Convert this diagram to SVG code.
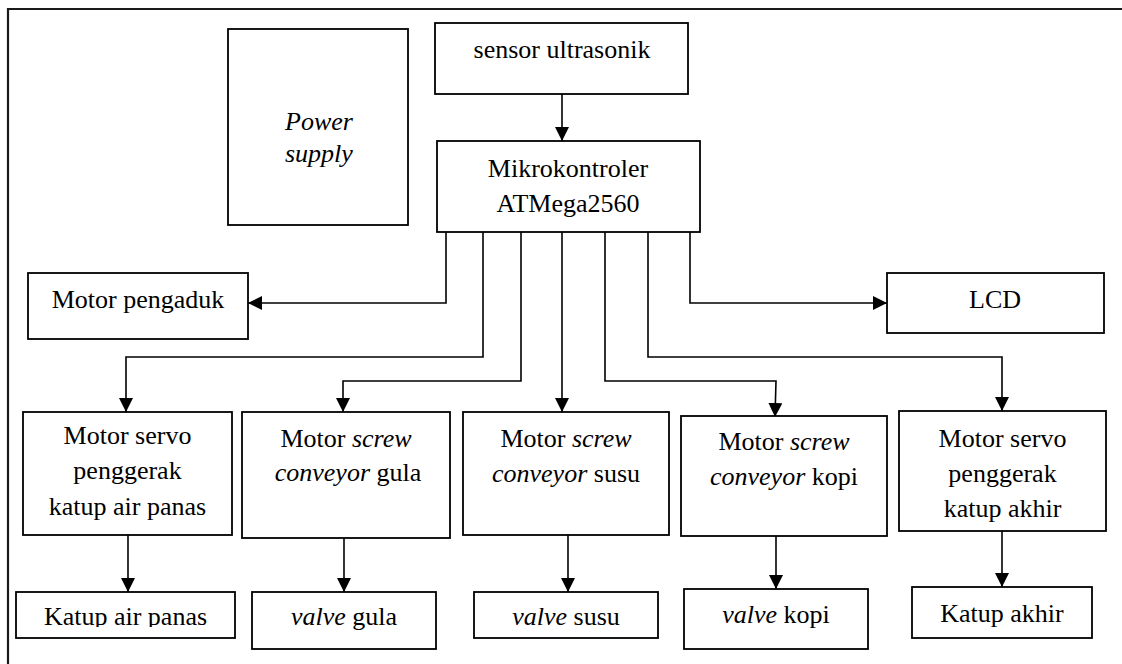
<svg xmlns="http://www.w3.org/2000/svg" width="1122" height="664" viewBox="0 0 1122 664">
  <defs>
    <marker id="arrow" viewBox="0 0 14 14" refX="14" refY="7" markerWidth="14" markerHeight="14" markerUnits="userSpaceOnUse" orient="auto">
      <path d="M0,0 L14,7 L0,14 Z" fill="#000"/>
    </marker>
    <clipPath id="clipAirPanas">
      <rect x="16" y="592" width="219" height="35"/>
    </clipPath>
  </defs>
  <style>
    .box { fill: #fff; stroke: #000; stroke-width: 1.8; }
    .it { font-style: italic; }
    .wire { fill: none; stroke: #000; stroke-width: 1.6; }
    .frame { fill: none; stroke: #1a1a1a; stroke-width: 2.2; }
  </style>

  <rect width="1122" height="664" fill="#fff"/>

  <!-- outer frame -->
  <path class="frame" d="M8,664 L8,9 L1122,9"/>

  <!-- connectors -->
  <g id="connectors">
    <path class="wire" d="M562,94 L562,141" marker-end="url(#arrow)"/>
    <path class="wire" d="M446,232 L446,303 L248,303" marker-end="url(#arrow)"/>
    <path class="wire" d="M690,232 L690,303 L887,303" marker-end="url(#arrow)"/>
    <path class="wire" d="M483,232 L483,357 L126,357 L126,412" marker-end="url(#arrow)"/>
    <path class="wire" d="M521,232 L521,381 L343,381 L343,412" marker-end="url(#arrow)"/>
    <path class="wire" d="M562,232 L562,412" marker-end="url(#arrow)"/>
    <path class="wire" d="M605,232 L605,381 L776,381 L775,417" marker-end="url(#arrow)"/>
    <path class="wire" d="M648,232 L648,357 L1002,357 L1002,411" marker-end="url(#arrow)"/>
    <path class="wire" d="M128,535 L128,592" marker-end="url(#arrow)"/>
    <path class="wire" d="M344,535 L344,592" marker-end="url(#arrow)"/>
    <path class="wire" d="M568,535 L568,592" marker-end="url(#arrow)"/>
    <path class="wire" d="M776,536 L776,589" marker-end="url(#arrow)"/>
    <path class="wire" d="M1002,531 L1002,587" marker-end="url(#arrow)"/>
  </g>

  <g font-size="26" fill="#000" text-anchor="middle">
    <g id="power-supply">
      <rect class="box" x="228" y="29" width="180" height="196"/>
      <text font-family="Liberation Serif" class="it" x="285" y="130" text-anchor="start">Power</text>
      <text font-family="Liberation Serif" class="it" x="285" y="162" text-anchor="start">supply</text>
    </g>

    <g id="sensor-ultrasonik">
      <rect class="box" x="435" y="23" width="253" height="71"/>
      <text font-family="Liberation Serif" x="562" y="58">sensor ultrasonik</text>
    </g>

    <g id="mikrokontroler">
      <rect class="box" x="437" y="141" width="263" height="91"/>
      <text font-family="Liberation Serif" x="568" y="177">Mikrokontroler</text>
      <text font-family="Liberation Serif" x="568" y="212">ATMega2560</text>
    </g>

    <g id="motor-pengaduk">
      <rect class="box" x="28" y="273" width="220" height="66"/>
      <text font-family="Liberation Serif" x="138" y="308">Motor pengaduk</text>
    </g>

    <g id="lcd">
      <rect class="box" x="887" y="273" width="217" height="60"/>
      <text font-family="Liberation Serif" x="995" y="308">LCD</text>
    </g>

    <g id="servo-air-panas">
      <rect class="box" x="23" y="412" width="209" height="123"/>
      <text font-family="Liberation Serif" x="127.5" y="444">Motor servo</text>
      <text font-family="Liberation Serif" x="127.5" y="479">penggerak</text>
      <text font-family="Liberation Serif" x="127.5" y="515">katup air panas</text>
    </g>

    <g id="screw-gula">
      <rect class="box" x="242" y="412" width="208" height="126"/>
      <text font-family="Liberation Serif" x="346" y="447">Motor <tspan class="it">screw</tspan></text>
      <text font-family="Liberation Serif" x="348" y="481"><tspan class="it">conveyor</tspan> gula</text>
    </g>

    <g id="screw-susu">
      <rect class="box" x="463" y="412" width="206" height="123"/>
      <text font-family="Liberation Serif" x="566" y="447">Motor <tspan class="it">screw</tspan></text>
      <text font-family="Liberation Serif" x="566" y="482"><tspan class="it">conveyor</tspan> susu</text>
    </g>

    <g id="screw-kopi">
      <rect class="box" x="681" y="416" width="206" height="120"/>
      <text font-family="Liberation Serif" x="784" y="450">Motor <tspan class="it">screw</tspan></text>
      <text font-family="Liberation Serif" x="784" y="485"><tspan class="it">conveyor</tspan> kopi</text>
    </g>

    <g id="servo-akhir">
      <rect class="box" x="899" y="411" width="207" height="120"/>
      <text font-family="Liberation Serif" x="1002.5" y="447">Motor servo</text>
      <text font-family="Liberation Serif" x="1002.5" y="482">penggerak</text>
      <text font-family="Liberation Serif" x="1002.5" y="517">katup akhir</text>
    </g>

    <g id="katup-air-panas">
      <rect class="box" x="16" y="592" width="219" height="46"/>
      <text font-family="Liberation Serif" x="125.5" y="625" clip-path="url(#clipAirPanas)">Katup air panas</text>
    </g>

    <g id="valve-gula">
      <rect class="box" x="252" y="592" width="184" height="57"/>
      <text font-family="Liberation Serif" x="344" y="625"><tspan class="it">valve</tspan> gula</text>
    </g>

    <g id="valve-susu">
      <rect class="box" x="474" y="592" width="184" height="46"/>
      <text font-family="Liberation Serif" x="566" y="625"><tspan class="it">valve</tspan> susu</text>
    </g>

    <g id="valve-kopi">
      <rect class="box" x="684" y="589" width="184" height="60"/>
      <text font-family="Liberation Serif" x="776" y="623"><tspan class="it">valve</tspan> kopi</text>
    </g>

    <g id="katup-akhir">
      <rect class="box" x="912" y="587" width="180" height="51"/>
      <text font-family="Liberation Serif" x="1002" y="622">Katup akhir</text>
    </g>
  </g>
</svg>
